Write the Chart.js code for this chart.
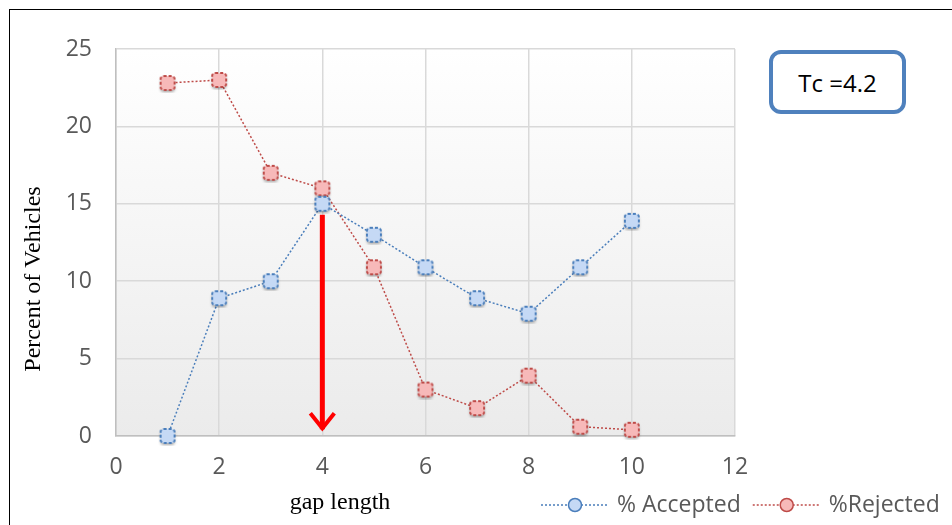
<!DOCTYPE html>
<html>
<head>
<meta charset="utf-8">
<script src="https://cdn.jsdelivr.net/npm/chart.js@4"></script>
<style>
  body { margin: 0; background: #fff; }
  #wrap { position: relative; width: 952px; height: 525px; overflow: hidden; }
  #frame { position: absolute; left: 9px; top: 9px; width: 980px; height: 600px; border: 1.5px solid #000; }
  #tcbox {
    position: absolute; left: 769px; top: 50px; width: 129px; height: 56px;
    border: 4px solid #4f81bd; border-radius: 12px; background: #fff;
    font: 24px "Open Sans", sans-serif; color: #000;
    display: flex; align-items: center; justify-content: center;
  }
  canvas { position: absolute; left: 0; top: 0; }
</style>
</head>
<body>
<div id="wrap">
  <div id="frame"></div>
  <canvas id="chart" width="952" height="525"></canvas>
  <div id="tcbox">Tc =4.2</div>
</div>
<script>
const gapLength = [1, 2, 3, 4, 5, 6, 7, 8, 9, 10];
const accepted = [0, 8.9, 10, 15, 13, 10.9, 8.9, 7.9, 10.9, 13.9];
const rejected = [22.8, 23, 17, 16, 10.9, 3, 1.8, 3.9, 0.6, 0.4];
const seriesNames = ['% Accepted', '%Rejected'];
const tcValue = 4;          // arrow position on gap axis
const arrowTop = 14.3;
const arrowBottom = 0.3;

const tickFont = { family: 'Open Sans', size: 23 };

// small square marker with a soft shadow, like the office chart
function makeMarker(fill, stroke) {
    const c = document.createElement('canvas');
    c.width = 20; c.height = 20;
    const ctx = c.getContext('2d');
    ctx.shadowColor = 'rgba(0,0,0,0.35)';
    ctx.shadowBlur = 3;
    ctx.shadowOffsetY = 2;
    ctx.fillStyle = fill;
    ctx.beginPath();
    ctx.roundRect(3, 3, 14, 14, 3);
    ctx.fill();
    ctx.shadowColor = 'transparent';
    ctx.strokeStyle = stroke;
    ctx.lineWidth = 2;
    ctx.setLineDash([3, 2]);
    ctx.stroke();
    return c;
}

const plotBackground = {
    id: 'plotBackground',
    beforeDraw(chart) {
        const { ctx, chartArea: a } = chart;
        const g = ctx.createLinearGradient(0, a.top, 0, a.bottom);
        g.addColorStop(0, '#ffffff');
        g.addColorStop(1, '#ebebeb');
        ctx.save();
        ctx.fillStyle = g;
        ctx.fillRect(a.left, a.top, a.right - a.left, a.bottom - a.top);
        ctx.restore();
    }
};

const extras = {
    id: 'extras',
    afterDraw(chart) {
        const { ctx } = chart;
        const xs = chart.scales.x, ys = chart.scales.y;
        ctx.save();
        // arrow
        const ax = xs.getPixelForValue(tcValue);
        const y1 = ys.getPixelForValue(arrowTop);
        const y2 = ys.getPixelForValue(arrowBottom);
        ctx.strokeStyle = '#ff0000';
        ctx.lineWidth = 5;
        ctx.beginPath();
        ctx.moveTo(ax, y1);
        ctx.lineTo(ax, y2 - 2);
        ctx.stroke();
        ctx.lineWidth = 4;
        ctx.beginPath();
        ctx.moveTo(ax - 12, y2 - 18);
        ctx.lineTo(ax, y2 - 3);
        ctx.lineTo(ax + 12, y2 - 18);
        ctx.stroke();

        // axis titles
        ctx.fillStyle = '#000';
        ctx.font = '24px "Liberation Serif"';
        ctx.textAlign = 'center';
        ctx.textBaseline = 'middle';
        ctx.fillText('gap length', 340, 503);
        ctx.translate(34, 279);
        ctx.rotate(-Math.PI / 2);
        ctx.fillText('Percent of Vehicles', 0, 0);
        ctx.restore();

        // legend
        ctx.save();
        ctx.font = '23px "Open Sans"';
        ctx.textBaseline = 'middle';
        let x = 541;
        const y = 505;
        chart.data.datasets.forEach(ds => {
            ctx.strokeStyle = ds.borderColor;
            ctx.lineWidth = 1.5;
            ctx.setLineDash([2, 2]);
            ctx.beginPath();
            ctx.moveTo(x, y);
            ctx.lineTo(x + 68, y);
            ctx.stroke();
            ctx.setLineDash([]);
            ctx.fillStyle = ds.backgroundColor;
            ctx.beginPath();
            ctx.arc(x + 34, y, 6.5, 0, Math.PI * 2);
            ctx.fill();
            ctx.stroke();
            ctx.fillStyle = '#595959';
            ctx.fillText(ds.label, x + 76, y);
            x += 76 + ctx.measureText(ds.label).width + 12;
        });
        ctx.restore();
    }
};

new Chart(document.getElementById('chart'), {
    type: 'line',
    data: {
        datasets: [
            {
                label: seriesNames[0],
                data: gapLength.map((g, i) => ({ x: g, y: accepted[i] })),
                borderColor: '#4a7ebb',
                backgroundColor: '#c5d9f5',
                borderWidth: 1.5,
                borderDash: [2, 2],
                pointStyle: makeMarker('#c5d9f5', '#4a7ebb'),
                clip: false,
                tension: 0
            },
            {
                label: seriesNames[1],
                data: gapLength.map((g, i) => ({ x: g, y: rejected[i] })),
                borderColor: '#be4b48',
                backgroundColor: '#f7b9b9',
                borderWidth: 1.5,
                borderDash: [2, 2],
                pointStyle: makeMarker('#f7b9b9', '#be4b48'),
                clip: false,
                tension: 0
            }
        ]
    },
    options: {
        responsive: false,
        animation: false,
        layout: { padding: { left: 0, top: 49, right: 217, bottom: 0 } },
        plugins: { legend: { display: false }, tooltip: { enabled: false } },
        scales: {
            x: {
                type: 'linear', min: 0, max: 12,
                ticks: { stepSize: 2, color: '#595959', font: tickFont, padding: 18 },
                grid: { color: '#d9d9d9', lineWidth: 1.5, drawTicks: false },
                border: { color: '#bfbfbf', width: 1.5 },
                afterFit(s) { s.height = 89; }
            },
            y: {
                min: 0, max: 25,
                ticks: { stepSize: 5, color: '#595959', font: tickFont, padding: 24 },
                grid: { color: '#d9d9d9', lineWidth: 1.5, drawTicks: false },
                border: { color: '#bfbfbf', width: 1.5 },
                afterFit(s) { s.width = 116; }
            }
        }
    },
    plugins: [plotBackground, extras]
});
</script>
</body>
</html>
